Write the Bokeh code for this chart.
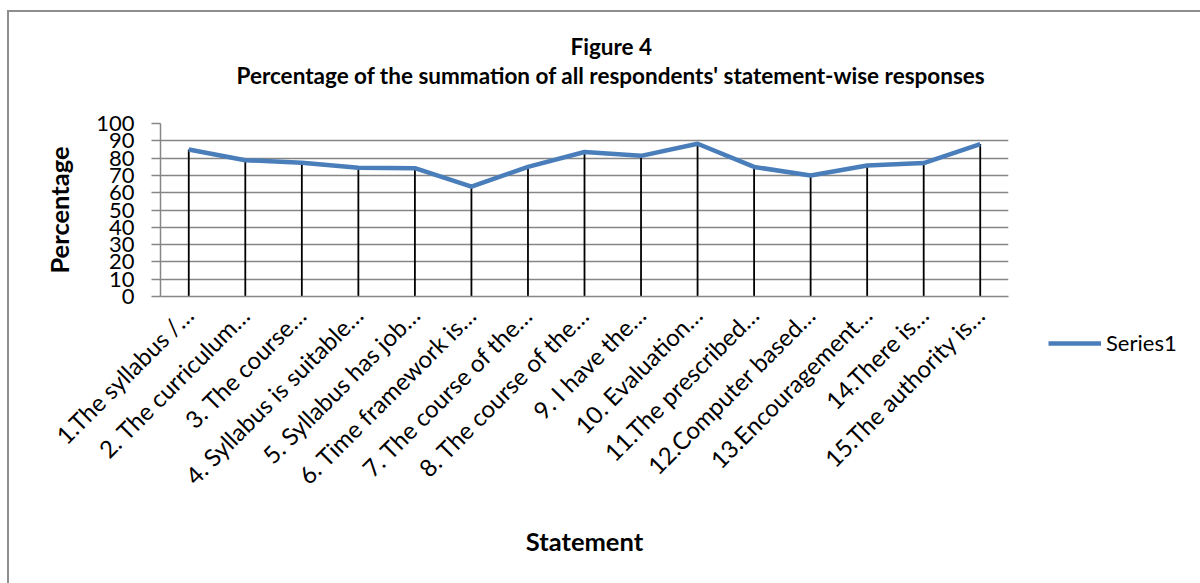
import math
from bokeh.plotting import figure
from bokeh.layouts import row
from bokeh.models import (Range1d, FactorRange, Legend, LegendItem, Title,
                          FixedTicker, ColumnDataSource)
from bokeh.embed import file_html
from bokeh.resources import INLINE

# ---- data ----
statements = [
    "1.The syllabus /…",
    "2. The curriculum…",
    "3. The course…",
    "4. Syllabus is suitable…",
    "5. Syllabus has job…",
    "6. Time framework is…",
    "7. The course of the…",
    "8. The course of the…",
    "9. I have the…",
    "10. Evaluation…",
    "11.The prescribed…",
    "12.Computer based…",
    "13.Encouragement…",
    "14.There is…",
    "15.The authority is…",
]
percentages = [85.0, 78.8, 77.3, 74.4, 74.2, 63.5, 74.9, 83.5, 81.3, 88.3, 74.9, 69.9, 75.7, 77.1, 88.1]
series_name = "Series1"
y_ticks = [0, 10, 20, 30, 40, 50, 60, 70, 80, 90, 100]

title_main = "Figure 4"
title_sub = "Percentage of the summation of all respondents' statement-wise responses"
x_label = "Statement"
y_label = "Percentage"

FONT = "Lato"
GRID = "#868686"
BLUE = "#4A7EBB"

src = ColumnDataSource(dict(stmt=statements, pct=percentages))

x_rng = FactorRange(*statements, range_padding=0)
y_rng = Range1d(0, 100)

p = figure(
    x_range=x_rng, y_range=y_rng,
    width=1019, height=571,
    min_border_left=151, min_border_right=20,
    min_border_top=111, min_border_bottom=287,
    output_backend="svg", toolbar_location=None,
)
p.frame_align = False
p.outline_line_color = None
p.background_fill_color = "white"
p.border_fill_color = "white"

# titles (first added is closest to frame)
p.add_layout(Title(text=" ", standoff=21, text_font=FONT, text_font_size="10px"), "above")
p.add_layout(Title(text=title_sub, align="left", offset=76, standoff=0,
                   text_font=FONT, text_font_size="22.5px", text_font_style="bold",
                   text_color="black"), "above")
p.add_layout(Title(text=title_main, align="left", offset=410, standoff=0,
                   text_font=FONT, text_font_size="22.5px", text_font_style="bold",
                   text_color="black"), "above")

# drop lines
p.segment(x0="stmt", y0=0, x1="stmt", y1="pct", source=src,
          line_color="black", line_width=1.8)
# series line
r = p.line(x="stmt", y="pct", source=src, line_color=BLUE, line_width=4.5,
           line_join="round")

# grid
p.xgrid.visible = False
p.ygrid.ticker = FixedTicker(ticks=y_ticks)
p.ygrid.grid_line_color = GRID
p.ygrid.grid_line_width = 1.5

# y axis
ya = p.yaxis[0]
ya.ticker = FixedTicker(ticks=y_ticks)
ya.axis_line_color = GRID
ya.axis_line_width = 1.5
ya.major_tick_line_color = GRID
ya.major_tick_line_width = 1.5
ya.major_tick_out = 9
ya.major_tick_in = 0
ya.minor_tick_line_color = None
ya.major_label_text_font = FONT
ya.major_label_text_font_size = "22px"
ya.major_label_text_color = "black"
ya.major_label_standoff = 17
ya.axis_label = y_label
ya.axis_label_text_font = FONT
ya.axis_label_text_font_size = "25.5px"
ya.axis_label_text_font_style = "bold"
ya.axis_label_text_color = "black"
ya.axis_label_standoff = 19

# x axis
xa = p.xaxis[0]
xa.axis_line_color = GRID
xa.axis_line_width = 1.5
xa.major_tick_line_color = None
xa.minor_tick_line_color = None
xa.major_label_orientation = math.pi / 4
xa.major_label_text_font = FONT
xa.major_label_text_font_size = "24px"
xa.major_label_text_color = "black"
xa.major_label_standoff = 8
xa.axis_label = x_label
xa.axis_label_text_font = FONT
xa.axis_label_text_font_size = "25.5px"
xa.axis_label_text_font_style = "bold"
xa.axis_label_text_color = "black"
xa.axis_label_standoff = 23

# legend panel (separate narrow figure on the right); its renderer is the
# same series, kept hidden so that only the legend entry shows
lf = figure(width=172, height=571, min_border=0, x_range=x_rng, y_range=y_rng,
            x_axis_location=None, y_axis_location=None,
            output_backend="svg", toolbar_location=None)
lf.frame_align = False
lf.outline_line_color = None
lf.grid.visible = False
lr = lf.line(x="stmt", y="pct", source=src, line_color=BLUE, line_width=4.5)
lr.visible = False
legend = Legend(items=[LegendItem(label=series_name, renderers=[lr])],
                location=(20, 227), glyph_width=53, glyph_height=20,
                label_text_font=FONT, label_text_font_size="22px",
                label_text_color="black", label_standoff=5,
                border_line_color=None, background_fill_alpha=0,
                inactive_fill_alpha=0,
                padding=0, margin=0)
lf.add_layout(legend)

layout = row(p, lf, spacing=0)
layout.styles = {"border-left": "2px solid #8e8e8e", "border-top": "2px solid #8e8e8e",
                 "margin-left": "7px", "margin-top": "10px"}

open("out.html", "w").write(file_html(layout, INLINE))
